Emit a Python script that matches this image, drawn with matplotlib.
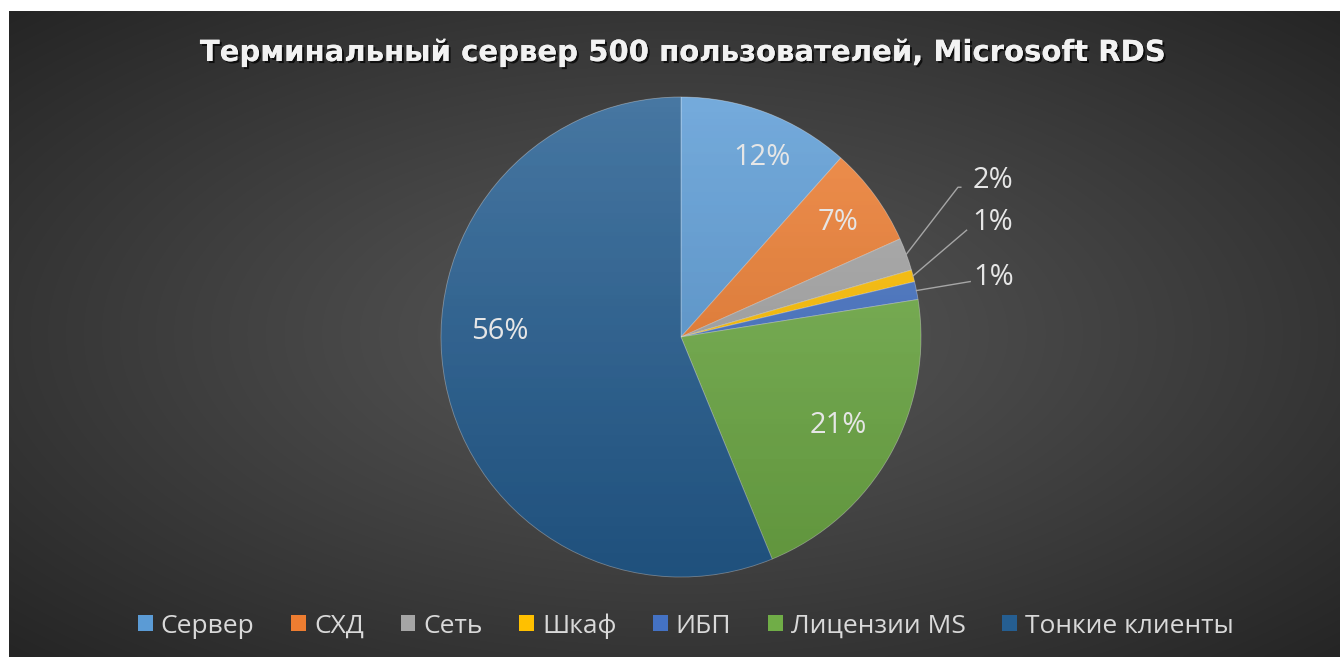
import numpy as np
import matplotlib
matplotlib.use("Agg")
import matplotlib.pyplot as plt
from matplotlib.patches import Patch, Circle
import matplotlib.patheffects as pe

# ---- data ----
title = "Терминальный сервер 500 пользователей, Microsoft RDS"
categories = ["Сервер", "СХД", "Сеть", "Шкаф", "ИБП", "Лицензии MS", "Тонкие клиенты"]
values = [11.6, 6.7, 2.2, 0.8, 1.2, 21.3, 56.2]
colors = ["#5B9BD5", "#ED7D31", "#A5A5A5", "#FFC000", "#4472C4", "#70AD47", "#255E91"]

W, H = 1340, 657
fig = plt.figure(figsize=(W / 100, H / 100), dpi=100, facecolor="white")

# ---- background panel with radial gradient ----
left_px, top_px = 9, 11
bg = fig.add_axes([left_px / W, 0, 1 - left_px / W, 1 - top_px / H])
ny, nx = 300, 600
yy, xx = np.mgrid[-1:1:ny * 1j, -1:1:nx * 1j]
r = np.sqrt(xx ** 2 + yy ** 2) / np.sqrt(2)
lv = (0x57 - (0x57 - 0x25) * np.clip(r, 0, 1) ** 1.1) / 255.0
img = np.dstack([lv, lv, lv])
bg.imshow(img, aspect="auto", extent=[0, 1, 0, 1], interpolation="bilinear")
bg.set_xlim(0, 1)
bg.set_ylim(0, 1)
bg.set_axis_off()

# ---- pie ----
cx, cy, R = 681, 337, 240
ax = fig.add_axes([(cx - R) / W, (H - cy - R) / H, 2 * R / W, 2 * R / H])
ax.set_aspect("equal")
ax.set_axis_off()

wedges, _ = ax.pie(values, colors=colors, startangle=90, counterclock=False, radius=1,
                   wedgeprops=dict(edgecolor=(1, 1, 1, 0.35), linewidth=0.6))

# subtle vertical shading over the pie
g = np.linspace(1, 0, 200)[:, None] * np.ones((1, 10))
shade = np.zeros((200, 10, 4))
shade[..., :3] = 1.0
shade[..., 3] = 0.16 * g
im1 = ax.imshow(shade, extent=[-1, 1, -1, 1], aspect="auto", zorder=5)
dark = np.zeros((200, 10, 4))
dark[..., 3] = 0.14 * (1 - g)
im2 = ax.imshow(dark, extent=[-1, 1, -1, 1], aspect="auto", zorder=5)
clip = Circle((0, 0), 1, transform=ax.transData)
im1.set_clip_path(clip)
im2.set_clip_path(clip)
ax.set_xlim(-1, 1)
ax.set_ylim(-1, 1)

total = sum(values)
label_color = "#E6E6E6"
fs = 21
font = "Open Sans"

# inside labels: (radius fraction, angle offset)
inside = {0: (0.82, 3.5), 1: (0.81, 0.0), 5: (0.75, 0.0), 6: (0.755, 13.0)}
# outside labels: (text x, text y, elbow x, line end x) in axes data units
outside = {2: (1.215, 0.654, 1.154, 1.196),
           3: (1.215, 0.475, 1.19, 1.22),
           4: (1.22, 0.246, None, 1.225)}
cum = 0.0
for i, v in enumerate(values):
    mid = (cum + v / 2) / total * 360.0
    cum += v
    txt = f"{v / total * 100:.0f}%"
    if i in inside:
        d, off = inside[i]
        a = np.deg2rad(mid + off)
        ax.text(d * np.sin(a), d * np.cos(a), txt, ha="center", va="center",
                fontsize=fs, color=label_color, family=font, zorder=10)
    else:
        tx, ty, ex, lx = outside[i]
        a = np.deg2rad(mid)
        px, py = np.sin(a), np.cos(a)
        if ex is None:
            xs, ys = [px, lx - 0.02], [py, ty - 0.015]
        else:
            xs, ys = [px, ex, lx - 0.03], [py, ty - 0.03, ty - 0.03]
        ax.plot(xs, ys, color="#A6A6A6", lw=1.0, zorder=10, clip_on=False)
        ax.text(tx, ty, txt, ha="left", va="center", fontsize=fs,
                color=label_color, family=font, zorder=10, clip_on=False)

# ---- title ----
t = fig.text(683 / W, 1 - 53 / H, title, ha="center", va="center", fontsize=20,
             fontweight="bold", color="#F2F2F2", family="DejaVu Sans",
             path_effects=[pe.withSimplePatchShadow(offset=(1.5, -1.5), shadow_rgbFace="black", alpha=0.7),
                           pe.Normal()])
fig.canvas.draw()
w = t.get_window_extent().width
t.set_fontsize(20 * 967 / w)

# ---- legend ----
handles = [Patch(facecolor=c, edgecolor="none") for c in colors]
leg = fig.legend(handles, categories, loc="center", bbox_to_anchor=(686 / W, 1 - 626 / H),
                 ncol=len(categories), frameon=False, handlelength=0.55, handleheight=0.55,
                 handletextpad=0.3, columnspacing=1.4,
                 prop=dict(family=font, size=19))
for txt in leg.get_texts():
    txt.set_color("#D9D9D9")

fig.savefig("out.png", dpi=100, facecolor="white")
